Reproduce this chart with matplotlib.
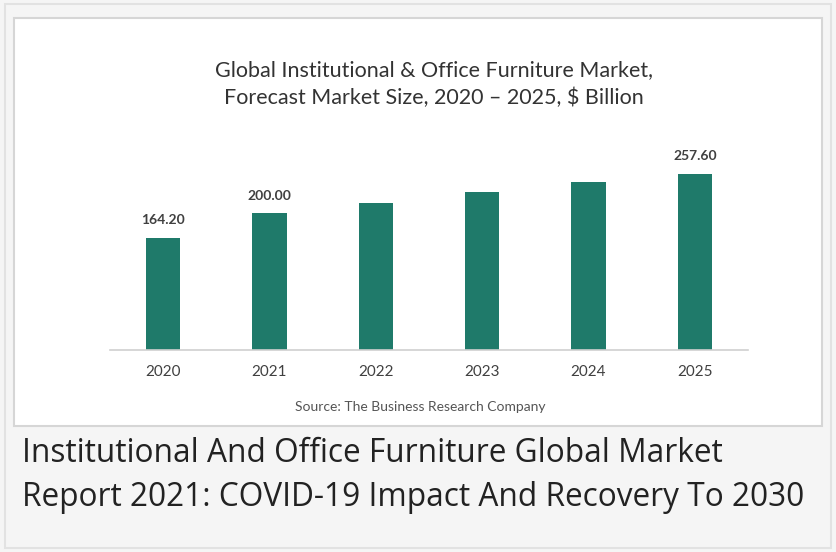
import matplotlib.pyplot as plt
from matplotlib.patches import Rectangle

years = ["2020", "2021", "2022", "2023", "2024", "2025"]
market_size = [164.20, 200.00, 215.0, 230.0, 245.0, 257.60]
value_labels = ["164.20", "200.00", "", "", "", "257.60"]

W, H = 836, 552
fig = plt.figure(figsize=(W / 100, H / 100), dpi=100)
fig.patch.set_facecolor("#f5f5f5")

def px(x, y):
    # pixel coords (top-left origin) -> figure fraction
    return x / W, 1 - y / H

# outer card border and inner white chart box
fig.add_artist(Rectangle(px(5, 548), 826 / W, 544 / H, transform=fig.transFigure,
                         facecolor="#f5f5f5", edgecolor="#e2e2e2", lw=1.5, zorder=-10))
fig.add_artist(Rectangle(px(14, 426), 808 / W, 408 / H, transform=fig.transFigure,
                         facecolor="white", edgecolor="#d6d6d6", lw=1.5, zorder=-9))

ax = fig.add_axes([110 / W, (H - 350) / H, 638 / W, 200 / H])
ax.set_facecolor("none")
bars = ax.bar(years, market_size, width=0.32, color="#1f7a6a")
ax.set_xlim(-0.5, 5.5)
ax.set_ylim(0, 292)
for s in ["top", "right", "left"]:
    ax.spines[s].set_visible(False)
ax.spines["bottom"].set_color("#d0d0d0")
ax.spines["bottom"].set_linewidth(1.2)
ax.set_yticks([])
ax.tick_params(axis="x", length=0, pad=11, labelsize=11, labelcolor="#404040")
for lab in ax.get_xticklabels():
    lab.set_family("Lato")

for b, t in zip(bars, value_labels):
    if t:
        ax.annotate(t, (b.get_x() + b.get_width() / 2, b.get_height()),
                    xytext=(0, 8), textcoords="offset points", ha="center", va="bottom",
                    fontsize=10, color="#404040", family="Lato", fontweight="bold")

fig.text(*px(434, 70), "Global Institutional & Office Furniture Market,", ha="center", va="center",
         fontsize=15.5, color="#333333", family="Lato")
fig.text(*px(434, 98), "Forecast Market Size, 2020 \u2013 2025, $ Billion", ha="center", va="center",
         fontsize=15.5, color="#333333", family="Lato")
fig.text(*px(420, 407), "Source: The Business Research Company", ha="center", va="center",
         fontsize=10, color="#555555", family="Lato")

fig.text(*px(22, 453), "Institutional And Office Furniture Global Market", ha="left", va="center",
         fontsize=22.8, color="#222222", family="Open Sans")
fig.text(*px(22, 497), "Report 2021: COVID-19 Impact And Recovery To 2030", ha="left", va="center",
         fontsize=22.8, color="#222222", family="Open Sans")

fig.savefig("out.png", dpi=100, facecolor=fig.get_facecolor())
